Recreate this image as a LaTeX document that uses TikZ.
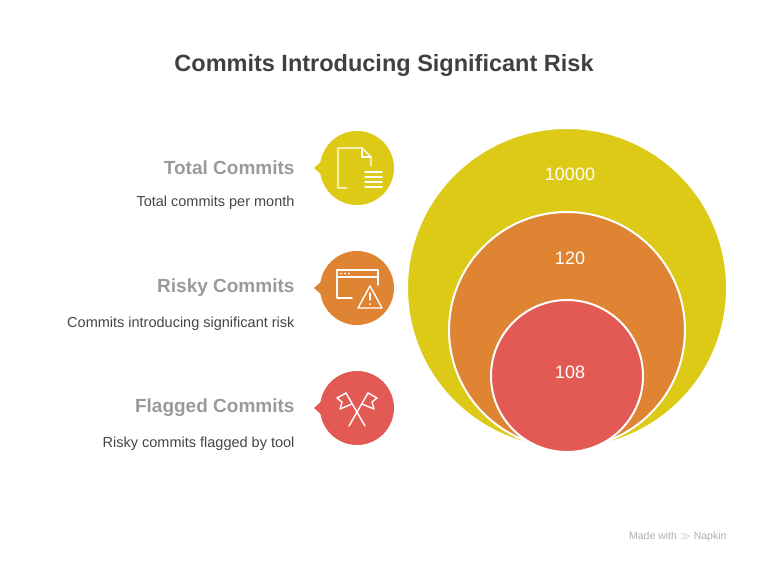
\documentclass[tikz,border=0pt]{standalone}
\usepackage{fontspec}
\setmainfont{Liberation Sans}
\usetikzlibrary{positioning}
\definecolor{cyellow}{HTML}{DDCA16}
\definecolor{corange}{HTML}{DF8432}
\definecolor{cred}{HTML}{E35A54}
\definecolor{ctitle}{HTML}{404040}
\definecolor{clabel}{HTML}{9A9A9A}
\definecolor{cdesc}{HTML}{454545}
\begin{document}
\begin{tikzpicture}[
    x=1pt, y=-1pt,
    ring/.style={draw=white,line width=2pt},
    value/.style={text=white,font=\fontsize{18}{20}\selectfont},
    head/.style={anchor=east,text=clabel,font=\fontsize{19}{22}\selectfont\bfseries},
    desc/.style={anchor=east,text=cdesc,font=\fontsize{14.5}{17}\selectfont},
    icon/.style={draw=white,line width=1.4pt,line join=round,line cap=round}
]
\useasboundingbox (0,0) rectangle (768,565);

% Title
\node[text=ctitle,font=\fontsize{23.5}{26}\selectfont\bfseries] (title) at (384,65) {Commits Introducing Significant Risk};

% Nested circles
\fill[cyellow,ring] (567,288) circle (160);
\fill[corange,ring] (567,330) circle (118);
\fill[cred,ring] (567,376) circle (76);
\node[value] (v1) at (570,174) {10000};
\node[value] (v2) at (570,258) {120};
\node[value] (v3) at (570,372) {108};

% Badges
\foreach \y/\c in {168/cyellow,288/corange,408/cred}{
  \fill[\c] (357,\y) circle (37);
  \fill[\c] (314,\y) -- (324,\y-9) -- (324,\y+9) -- cycle;
}

% Icons
\draw[icon] (347,188) -- (338,188) -- (338,148) -- (362,148) -- (371,157) -- (371,166);
\draw[icon] (362,148) -- (362,157) -- (371,157);
\draw[icon] (365,172) -- (382,172) (365,177) -- (382,177) (365,182) -- (382,182) (365,187) -- (382,187);
\draw[icon] (352,298) -- (337,298) -- (337,270) -- (378,270) -- (378,285);
\draw[icon] (337,277) -- (378,277);
\fill[white] (341,273.5) circle (1) (345,273.5) circle (1) (349,273.5) circle (1);
\draw[icon] (370,286) -- (382,308) -- (358,308) -- cycle;
\draw[icon] (370,293) -- (370,300);
\fill[white] (370,304) circle (1);
\draw[icon] (349,426) -- (368,393) (365,426) -- (346,393);
\draw[icon] (346,393) -- (337,398) -- (342,402) -- (340,409) -- (352,404);
\draw[icon] (368,393) -- (377,398) -- (372,402) -- (374,409) -- (362,404);

% Labels
\node[head] (h1) at (298,168) {Total Commits};
\node[desc] (d1) at (298,203) {Total commits per month};
\node[head] (h2) at (298,288) {Risky Commits};
\node[desc] (d2) at (298,324) {Commits introducing significant risk};
\node[head] (h3) at (298,408) {Flagged Commits};
\node[desc] (d3) at (298,444) {Risky commits flagged by tool};

% Footer
\node[anchor=east,text=clabel!80,font=\fontsize{10.5}{12}\selectfont] (foot) at (730,537) {Made with \(\gg\) Napkin};
\end{tikzpicture}
\end{document}
